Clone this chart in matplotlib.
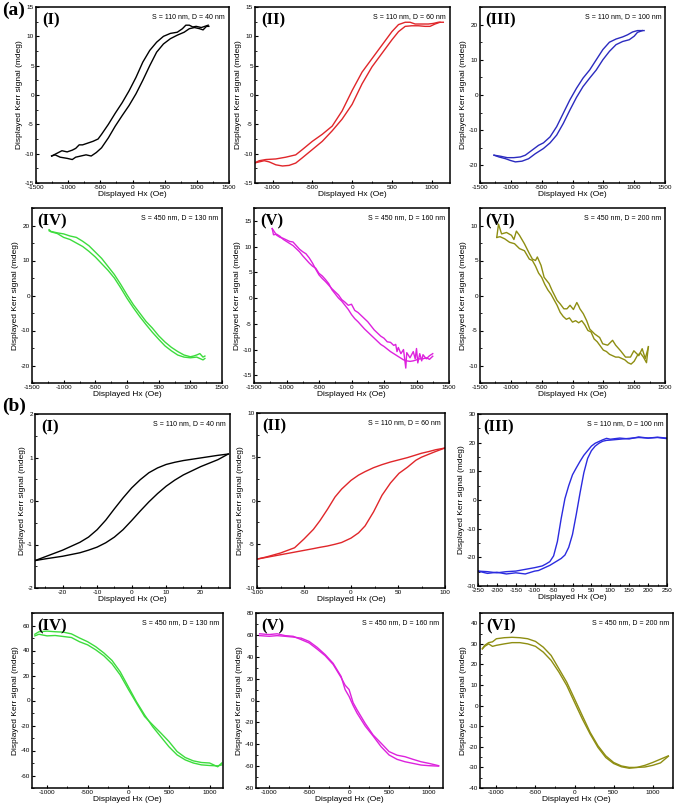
import matplotlib
matplotlib.use("Agg")
import matplotlib.pyplot as plt
from matplotlib.ticker import MultipleLocator, AutoMinorLocator

plt.rcParams["font.family"] = ["Liberation Sans", "DejaVu Sans"]
plt.rcParams["axes.unicode_minus"] = False

# ---------------- (a) measured loops ----------------
# (a)I  S=110, D=40  (two branches, own H grids)
a1_dn_h = [-1257, -1150, -1097, -1016, -936, -883, -829, -776, -722, -615, -535, -481,
           -375, -268, -160, -54, 54, 160, 268, 375, 481, 589, 696, 776, 829, 883,
           936, 990, 1070, 1124, 1177]
a1_dn_m = [-10.4, -9.8, -9.5, -9.7, -9.4, -9.1, -8.5, -8.5, -8.3, -7.9, -7.5, -6.7,
           -5.0, -3.1, -1.3, 0.7, 3.0, 5.6, 7.6, 9.0, 10.0, 10.5, 10.7, 11.3, 11.9, 11.9,
           11.6, 11.7, 11.5, 11.7, 11.9]
a1_up_h = [-1257, -1204, -1124, -1016, -936, -883, -803, -722, -642, -562, -481, -375,
           -268, -160, -54, 54, 160, 268, 375, 481, 589, 696, 803, 883, 963, 1043,
           1097, 1150, 1187]
a1_up_m = [-10.4, -10.2, -10.6, -10.8, -11.0, -10.6, -10.4, -10.2, -10.4, -9.8, -9.0, -7.3,
           -5.3, -3.5, -1.8, 0.2, 2.5, 5.0, 7.3, 8.7, 9.6, 10.2, 10.7, 11.3, 11.5, 11.3,
           11.1, 11.7, 11.7]

# (a)II  S=110, D=60
a2_dn_h = [-1229, -1167, -1083, -958, -833, -708, -625, -500, -375, -250, -125, 0, 125,
           250, 375, 500, 583, 667, 729, 792, 875, 958, 1021, 1083, 1146]
a2_dn_m = [-11.6, -11.2, -11.0, -10.9, -10.6, -10.2, -9.3, -7.9, -6.7, -5.3, -2.7, 0.75, 3.9,
           6.2, 8.5, 10.8, 12.0, 12.4, 12.4, 12.1, 12.1, 12.1, 12.2, 12.4, 12.4]
a2_up_h = [-1229, -1167, -1104, -1042, -958, -875, -792, -708, -625, -500, -375, -250,
           -125, 0, 125, 250, 375, 500, 583, 667, 750, 833, 917, 979, 1042, 1104]
a2_up_m = [-11.6, -11.4, -11.2, -11.4, -11.9, -12.1, -12.0, -11.6, -10.7, -9.3, -7.9, -6.1,
           -4.1, -1.6, 1.9, 4.8, 7.1, 9.4, 10.8, 11.7, 11.8, 11.8, 11.7, 11.7, 12.1, 12.4]

# (a)III  S=110, D=100
a3_dn_h = [-1273, -1166, -1059, -952, -845, -765, -658, -551, -471, -364, -257, -150,
           -43, 64, 171, 278, 385, 492, 599, 706, 813, 893, 973, 1054, 1134, 1161]
a3_dn_m = [-17.1, -17.4, -17.8, -17.8, -17.6, -17.1, -15.7, -14.3, -13.6, -11.9, -9.0, -5.2,
           -1.4, 1.9, 4.8, 7.1, 10.0, 12.9, 15.0, 15.9, 16.5, 17.1, 17.9, 18.3, 18.3, 18.3]
a3_up_h = [-1273, -1193, -1086, -1006, -926, -819, -712, -605, -471, -364, -257, -150,
           -43, 64, 171, 278, 385, 492, 599, 706, 813, 920, 1000, 1054, 1134]
a3_up_m = [-17.1, -17.6, -18.1, -18.6, -19.0, -18.8, -18.1, -16.7, -15.2, -13.6, -11.4, -8.1,
           -4.3, -0.7, 2.4, 4.8, 7.1, 10.0, 12.4, 14.3, 15.2, 15.7, 16.7, 17.8, 18.3]

# (a)IV  S=450, D=130
a4_h = [-1230, -1200, -1100, -1000, -900, -800, -700, -600, -500, -400, -300, -200, -100,
        0, 100, 200, 300, 400, 500, 600, 700, 800, 900, 1000, 1050, 1100, 1150, 1200, 1230]
a4_a = [18.8, 18.3, 17.9, 17.6, 17.0, 16.6, 15.5, 14.2, 12.4, 10.6, 8.3, 6.0, 3.2,
        0.2, -2.6, -5.0, -7.4, -9.3, -11.5, -13.3, -14.8, -16.0, -17.0, -17.5, -17.3, -17.0,
        -16.6, -17.6, -17.3]
a4_b = [18.5, 18.2, 17.7, 16.6, 16.0, 15.0, 14.0, 12.6, 11.0, 9.1, 7.2, 5.0, 2.2,
        -0.8, -3.5, -6.0, -8.3, -10.5, -12.5, -14.4, -15.8, -17.0, -17.6, -17.8, -17.7, -17.6,
        -18.0, -18.4, -18.0]

# (a)V  S=450, D=160 (noisy)
a5_a_h = [-1220, -1150, -1100, -1050, -1000, -950, -900, -850, -800, -750, -700, -650,
          -600, -550, -500, -450, -400, -350, -300, -250, -200, -150, -100, -50, 0, 50,
          100, 150, 200, 250, 300, 350, 400, 450, 500, 550, 600, 650, 680, 700, 720, 760,
          800, 835, 850, 900, 950, 980, 1000, 1020, 1050, 1080, 1100, 1150, 1200, 1250]
a5_a_m = [13.5, 12.2, 11.8, 11.6, 11.3, 11.0, 10.9, 10.2, 9.5, 9.0, 8.6, 7.8,
          6.8, 5.6, 4.5, 3.8, 3.2, 2.5, 1.8, 1.2, 0.6, -0.3, -0.8, -1.4, -1.2, -2.4,
          -2.8, -3.4, -4.0, -4.6, -5.4, -6.2, -6.8, -7.4, -7.8, -8.5, -8.6, -9.2, -9.0, -10.4,
          -9.6, -10.8, -10.0, -13.6, -10.6, -11.6, -10.4, -11.8, -9.8, -12.6, -10.8, -12.2,
          -11.0, -11.8, -11.2, -10.8]
a5_b_h = [-1220, -1200, -1150, -1100, -1050, -1000, -950, -900, -850, -800, -750, -700,
          -650, -600, -550, -500, -450, -400, -350, -300, -250, -200, -150, -100, -50, 0,
          50, 100, 150, 200, 250, 300, 350, 400, 450, 500, 550, 600, 650, 700, 750, 800,
          850, 900, 950, 1000, 1050, 1100, 1150, 1200, 1250]
a5_b_m = [13.5, 12.3, 12.4, 12.0, 11.4, 11.0, 10.6, 10.2, 9.6, 9.0, 8.2, 7.5,
          6.8, 6.2, 5.8, 4.8, 4.3, 3.6, 2.8, 1.6, 0.8, 0.0, -0.6, -1.4, -2.2, -3.2,
          -4.0, -4.6, -5.3, -6.0, -6.6, -7.2, -7.8, -8.4, -9.0, -9.4, -9.9, -10.4, -10.8,
          -11.2, -11.6, -12.0, -12.2, -12.3, -12.2, -12.0, -11.8, -11.8, -11.6, -11.9, -11.3]

# (a)VI  S=450, D=200 (noisy)
a6_a_h = [-1228, -1200, -1150, -1070, -990, -950, -910, -860, -780, -700, -650, -600,
          -570, -510, -460, -380, -330, -250, -200, -140, -90, -40, 15, 70, 100, 120, 175,
          230, 280, 360, 440, 490, 570, 650, 700, 780, 860, 940, 995, 1075, 1130, 1180, 1230]
a6_a_m = [8.3, 10.2, 8.8, 9.0, 8.6, 8.0, 9.2, 8.6, 7.4, 6.0, 5.2, 5.0,
          5.5, 4.3, 2.6, 1.7, 0.7, -0.7, -1.2, -1.9, -1.9, -1.4, -2.0, -1.0, -1.5, -1.9, -2.6,
          -3.6, -4.8, -5.5, -6.0, -6.9, -7.1, -6.4, -7.1, -7.9, -8.8, -8.8, -7.9, -8.6, -7.6,
          -9.0, -7.4]
a6_b_h = [-1228, -1175, -1100, -1020, -940, -860, -780, -700, -650, -600, -550, -500,
          -450, -400, -350, -300, -250, -200, -150, -100, -50, 0, 50, 100, 150, 200, 250,
          300, 350, 400, 450, 500, 550, 600, 650, 700, 750, 800, 850, 900, 950, 1000, 1050,
          1100, 1150, 1200, 1230]
a6_b_m = [8.3, 8.4, 8.1, 7.6, 7.4, 6.7, 6.4, 5.2, 5.0, 4.2, 3.2, 2.6,
          1.6, 0.8, 0.2, -0.6, -1.4, -2.4, -3.0, -3.4, -3.2, -3.8, -3.6, -3.9, -3.6, -4.2,
          -5.0, -5.2, -6.2, -6.6, -7.2, -7.8, -8.0, -8.4, -8.6, -8.8, -8.8, -9.0, -9.2, -9.6,
          -9.8, -9.4, -8.6, -8.2, -8.8, -9.6, -7.3]

# ---------------- (b) simulated loops ----------------
b1_h = [-28, -25, -20, -15, -12.5, -10, -7.5, -5, -2.5, 0, 2.5, 5, 7.5, 10, 12.5, 15, 20,
        25, 28]
b1_dn = [-1.37, -1.28, -1.13, -0.95, -0.83, -0.66, -0.44, -0.18, 0.07, 0.30, 0.49, 0.65,
         0.76, 0.84, 0.89, 0.93, 0.99, 1.05, 1.08]
b1_up = [-1.37, -1.33, -1.27, -1.19, -1.13, -1.06, -0.96, -0.83, -0.66, -0.45, -0.23, -0.02,
         0.17, 0.34, 0.48, 0.60, 0.79, 0.95, 1.08]

b2_h = [-100, -90, -75, -60, -50, -40, -33, -25, -17, -10, 0, 8, 15, 24, 33, 42, 51, 60,
        69, 75, 83, 90, 100]
b2_dn = [-6.7, -6.45, -6.0, -5.4, -4.4, -3.3, -2.3, -1.0, 0.4, 1.3, 2.3, 2.9, 3.3, 3.75,
         4.1, 4.4, 4.65, 4.9, 5.2, 5.4, 5.6, 5.8, 6.0]
b2_up = [-6.7, -6.5, -6.2, -5.9, -5.7, -5.5, -5.35, -5.2, -5.0, -4.8, -4.3, -3.7, -2.9,
         -1.3, 0.6, 2.0, 3.1, 3.8, 4.6, 4.95, 5.3, 5.6, 6.0]

b3_dn_h = [250, 225, 200, 175, 150, 125, 100, 90, 80, 70, 60, 50, 40, 30, 20, 10, 0, -10,
           -20, -30, -40, -50, -60, -70, -80, -90, -100, -125, -150, -175, -200, -225, -250]
b3_dn_m = [21.4, 21.8, 21.6, 22.0, 21.3, 21.6, 21.2, 21.5, 21.0, 20.4, 19.8, 18.8, 17.2,
           15.6, 13.5, 11.2, 8.8, 5.0, 0.5, -6.5, -14.5, -19.5, -21.5, -22.3, -23.0, -23.3,
           -23.6, -24.2, -24.8, -25.0, -25.4, -25.0, -24.8]
b3_up_h = [-250, -225, -200, -175, -150, -125, -100, -90, -80, -70, -60, -50, -40, -30, -20,
           -10, 0, 10, 20, 30, 40, 50, 60, 70, 80, 90, 100, 125, 150, 175, 200, 225, 250]
b3_up_m = [-24.8, -25.6, -25.2, -25.8, -25.4, -25.8, -24.8, -24.6, -24.0, -23.4, -22.8,
           -22.0, -21.2, -20.4, -19.2, -16.5, -12.0, -5.0, 2.5, 9.5, 14.5, 17.2, 18.8, 19.8,
           20.5, 20.8, 20.9, 21.2, 21.5, 21.8, 21.6, 21.9, 21.6]

b4_h = [-1150, -1100, -1000, -900, -800, -700, -600, -500, -400, -300, -200, -100, 0, 100,
        200, 300, 400, 500, 600, 700, 800, 900, 1000, 1100, 1150]
b4_a = [53.0, 55.0, 55.5, 55.0, 54.7, 53.3, 50.0, 47.0, 43.0, 38.0, 32.0, 23.0, 11.0, -1.0,
        -11.5, -21.0, -29.0, -37.0, -43.5, -47.5, -50.0, -51.5, -52.0, -52.3, -51.5]
b4_b = [51.7, 53.0, 51.7, 52.0, 51.2, 50.4, 47.0, 44.5, 40.5, 35.7, 29.3, 20.5, 9.0, -2.0,
        -12.8, -19.5, -26.0, -32.8, -40.8, -45.6, -48.3, -49.6, -50.0, -53.0, -50.0]

b5_h = [-1120, -1000, -900, -800, -700, -600, -500, -400, -300, -200, -100, -50, 0, 50, 100,
        200, 300, 400, 500, 600, 700, 800, 900, 1000, 1120]
b5_a = [61.0, 60.3, 61.0, 59.3, 58.7, 55.7, 52.6, 47.0, 41.0, 33.0, 21.0, 14.0, 10.0, -2.0,
        -8.6, -20.8, -31.5, -39.0, -46.7, -50.0, -51.4, -53.8, -56.0, -57.5, -59.6]
b5_b = [59.3, 58.7, 59.3, 58.7, 58.0, 57.0, 54.0, 48.6, 42.0, 34.0, 22.0, 10.0, 3.7, -4.5,
        -11.6, -23.2, -32.4, -42.2, -49.8, -53.8, -56.0, -57.5, -59.0, -59.6, -60.0]

b6_h = [-1180, -1150, -1100, -1050, -1000, -900, -800, -700, -600, -500, -400, -300, -200,
        -100, 0, 100, 200, 300, 400, 500, 600, 700, 800, 900, 1000, 1100, 1200]
b6_a = [27.6, 29.3, 30.6, 31.0, 32.5, 33.0, 33.2, 33.0, 32.5, 31.2, 28.4, 24.4, 17.9, 11.4,
        3.3, -4.9, -13.0, -19.5, -24.4, -27.6, -29.3, -30.0, -30.0, -29.0, -27.6, -26.0, -24.4]
b6_b = [27.6, 28.8, 30.0, 28.8, 29.3, 30.0, 30.6, 30.6, 30.0, 28.8, 26.0, 22.0, 16.3, 9.8,
        1.6, -6.5, -13.8, -20.3, -25.2, -28.1, -29.7, -30.4, -30.0, -29.8, -29.0, -27.8, -24.6]

tags = ["(I)", "(II)", "(III)", "(IV)", "(V)", "(VI)"]
notes = ["S = 110 nm, D = 40 nm", "S = 110 nm, D = 60 nm", "S = 110 nm, D = 100 nm",
         "S = 450 nm, D = 130 nm", "S = 450 nm, D = 160 nm", "S = 450 nm, D = 200 nm"]

W, H = 675, 809
fig = plt.figure(figsize=(W / 100, H / 100), dpi=100)


def panel(box, loops, color, xlim, ylim, xstep, ystep, tag, note):
    l, t, r, b = box
    ax = fig.add_axes([l / W, 1 - b / H, (r - l) / W, (b - t) / H])
    for hx, m in loops:
        ax.plot(hx, m, color=color, lw=1.0)
    ax.set_xlim(*xlim)
    ax.set_ylim(*ylim)
    ax.xaxis.set_major_locator(MultipleLocator(xstep))
    ax.yaxis.set_major_locator(MultipleLocator(ystep))
    ax.xaxis.set_minor_locator(AutoMinorLocator(2))
    ax.yaxis.set_minor_locator(AutoMinorLocator(2))
    ax.tick_params(which="both", direction="in", labelsize=4.6, pad=1.5,
                   top=False, right=False)
    ax.tick_params(which="major", length=2.5, width=0.8)
    ax.tick_params(which="minor", length=1.4, width=0.6)
    for s in ax.spines.values():
        s.set_linewidth(1.1)
    ax.set_xlabel("Displayed Hx (Oe)", fontsize=6, labelpad=1)
    ax.set_ylabel("Displayed Kerr signal (mdeg)", fontsize=6, labelpad=1)
    ax.text(0.03, 0.97, tag, transform=ax.transAxes, ha="left", va="top",
            fontsize=12, fontweight="bold", family="Liberation Serif")
    ax.text(0.98, 0.965, note, transform=ax.transAxes, ha="right", va="top",
            fontsize=5)
    return ax


# row 1 (a)
panel((36, 7, 229, 183), [(a1_dn_h, a1_dn_m), (a1_up_h, a1_up_m)], "black",
      (-1500, 1500), (-15, 15), 500, 5, tags[0], notes[0])
panel((255, 7, 450, 183), [(a2_dn_h, a2_dn_m), (a2_up_h, a2_up_m)], "#e0262a",
      (-1220, 1230), (-15, 15), 500, 5, tags[1], notes[1])
panel((480, 7, 665, 183), [(a3_dn_h, a3_dn_m), (a3_up_h, a3_up_m)], "#2b2bbf",
      (-1500, 1500), (-25, 25), 500, 10, tags[2], notes[2])
# row 2 (a)
panel((32, 208, 222, 383), [(a4_h, a4_a), (a4_h, a4_b)], "#3ddc3d",
      (-1500, 1500), (-25, 25), 500, 10, tags[3], notes[3])
panel((254, 208, 449, 383), [(a5_a_h, a5_a_m), (a5_b_h, a5_b_m)], "#dd22dd",
      (-1500, 1500), (-16.5, 17.5), 500, 5, tags[4], notes[4])
panel((480, 208, 665, 383), [(a6_a_h, a6_a_m), (a6_b_h, a6_b_m)], "#8e8e12",
      (-1500, 1500), (-12.5, 12.5), 500, 5, tags[5], notes[5])
# row 3 (b)
panel((35, 414, 230, 588), [(b1_h, b1_dn), (b1_h, b1_up)], "black",
      (-28, 28.5), (-2, 2), 10, 1, tags[0], notes[0])
panel((257, 413, 445, 588), [(b2_h, b2_dn), (b2_h, b2_up)], "#e0262a",
      (-100, 100), (-10, 10), 50, 5, tags[1], notes[1])
panel((478, 414, 667, 586), [(b3_dn_h, b3_dn_m), (b3_up_h, b3_up_m)], "#2b2bdf",
      (-250, 250), (-30, 30), 50, 10, tags[2], notes[2])
# row 4 (b)
panel((32, 613, 223, 788), [(b4_h, b4_a), (b4_h, b4_b)], "#3ddc3d",
      (-1185, 1165), (-70, 70), 500, 20, tags[3], notes[3])
panel((256, 613, 443, 788), [(b5_h, b5_a), (b5_h, b5_b)], "#dd22dd",
      (-1165, 1175), (-80, 80), 500, 20, tags[4], notes[4])
panel((480, 613, 673, 788), [(b6_h, b6_a), (b6_h, b6_b)], "#8e8e12",
      (-1210, 1260), (-40, 45), 500, 10, tags[5], notes[5])

fig.text(2 / W, 1 - 2 / H, "(a)", ha="left", va="top", fontsize=14,
         fontweight="bold", family="Liberation Serif")
fig.text(2 / W, 1 - 398 / H, "(b)", ha="left", va="top", fontsize=14,
         fontweight="bold", family="Liberation Serif")

fig.savefig("out.png", dpi=100)
